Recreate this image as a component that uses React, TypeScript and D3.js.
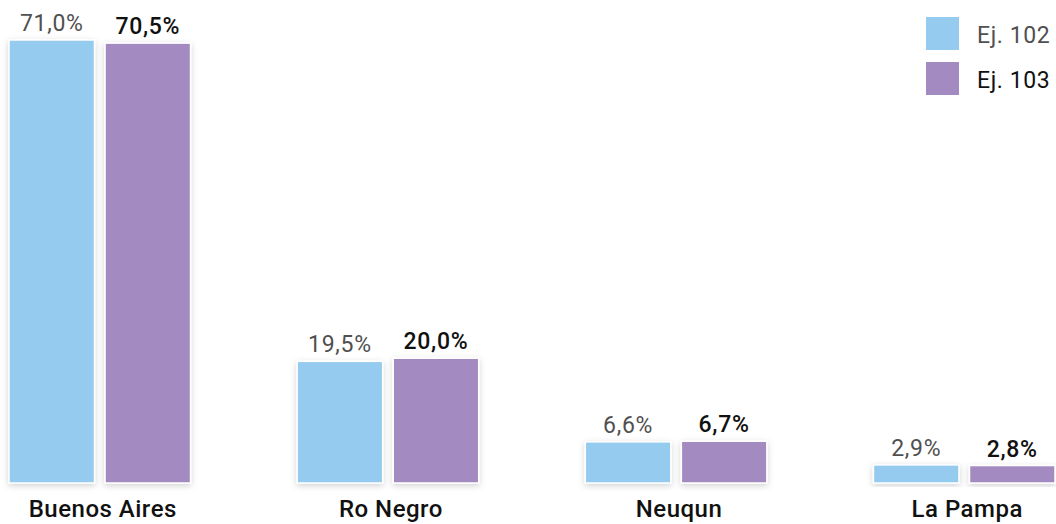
import React from 'react';
import * as d3 from 'd3';

// Provinces and values per exercise
const provinces = ['Buenos Aires', 'Ro Negro', 'Neuqun', 'La Pampa'];
const series = ['Ej. 102', 'Ej. 103'];
const ej102 = [71.0, 19.5, 6.6, 2.9];
const ej103 = [70.5, 20.0, 6.7, 2.8];
const colors = ['#95cbef', '#a38ac0'];
const labelColors = ['#505050', '#111111'];
const labelWeights = [400, 500];

const W = 1056;
const H = 524;

const fmt = (v: number) => v.toFixed(1).replace('.', ',') + '%';

export default function App() {
  const values = [ej102, ej103];

  const x0 = d3.scaleBand<string>()
    .domain(provinces)
    .range([9, 1055])
    .paddingInner(0.37)
    .paddingOuter(0);

  const x1 = d3.scaleBand<string>()
    .domain(series)
    .range([0, x0.bandwidth()])
    .paddingInner(0.11);

  const y = d3.scaleLinear().domain([0, 71]).range([483, 40]);

  return (
    <svg width={W} height={H} style={{ position: 'absolute', left: 0, top: 0 }}
      fontFamily="Roboto, sans-serif">
      <defs>
        <filter id="shadow" x="-20%" y="-20%" width="140%" height="140%">
          <feDropShadow dx="0" dy="2" stdDeviation="3" floodColor="#000" floodOpacity="0.18" />
        </filter>
      </defs>
      {provinces.map((p, i) => (
        <g key={p} transform={`translate(${x0(p)},0)`}>
          {series.map((s, j) => {
            const v = values[j][i];
            const bx = x1(s) as number;
            return (
              <g key={s}>
                <rect x={bx} y={y(v)} width={x1.bandwidth()} height={y(0) - y(v)}
                  fill={colors[j]} stroke="#fff" strokeWidth={1.5} filter="url(#shadow)" />
                <text x={bx + x1.bandwidth() / 2} y={y(v) - 9} textAnchor="middle"
                  fontSize={23} letterSpacing={0.7} fill={labelColors[j]} fontWeight={labelWeights[j]}>
                  {fmt(v)}
                </text>
              </g>
            );
          })}
          <text x={x0.bandwidth() / 2 + 3} y={517} textAnchor="middle" fontSize={24}
            fontWeight={500} fill="#111" letterSpacing={0.5}>{p}</text>
        </g>
      ))}
      {series.map((s, j) => (
        <g key={s} transform={`translate(926,${17 + j * 45})`}>
          <rect width={33} height={33} fill={colors[j]} />
          <text x={51} y={26} fontSize={23} letterSpacing={0.6} fill={labelColors[j]}>{s}</text>
        </g>
      ))}
    </svg>
  );
}
